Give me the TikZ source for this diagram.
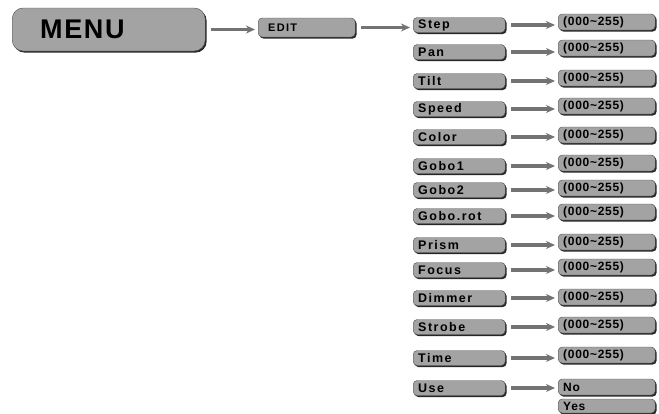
\documentclass[tikz,border=0pt]{standalone}
\usepackage{fontspec}
\setmainfont{Liberation Sans}
\newfontfamily\keyfont{Liberation Sans}[LetterSpace=12]
\newfontfamily\valfont{Liberation Sans}[LetterSpace=6]
\usetikzlibrary{arrows.meta,shadows}

\begin{document}
\begin{tikzpicture}[x=1pt,y=-1pt,>={Stealth[length=9pt,width=8pt]},
 box/.style={draw=black!70,line width=.4pt,fill=black!36,rounded corners=4pt,
  drop shadow={shadow xshift=1.4pt,shadow yshift=-1.6pt,fill=black!85,opacity=1},
  anchor=west,align=left,inner ysep=0pt},
 key/.style={box,inner xsep=5pt,text width=82pt,minimum height=15pt,
  font=\keyfont\bfseries\fontsize{12.5}{13}\selectfont},
 val/.style={box,inner xsep=5pt,text width=87pt,minimum height=16pt,
  font=\valfont\bfseries\fontsize{12}{13}\selectfont},
 link/.style={->,line width=3.2pt,draw=black!55,fill=black!55,shorten <=6pt,shorten >=3pt}]
\useasboundingbox (0,0) rectangle (659,413);
% top row
\node[box,rounded corners=11pt,inner xsep=28pt,text width=137pt,minimum height=43pt,
 font=\valfont\bfseries\fontsize{27}{29}\selectfont] (menu) at (12,29.5) {MENU};
\node[box,inner xsep=10pt,text width=77pt,minimum height=19pt,
 font=\keyfont\bfseries\fontsize{11}{12}\selectfont] (edit) at (258,27.5) {EDIT};
\draw[link] (menu.east) -- (menu.east -| edit.west);
% parameters and their ranges
\foreach \lab/\ya/\yb [count=\i] in {Step/25/22,Pan/52/48,Tilt/81/78,Speed/109/106,
 Color/137/135,Gobo1/166/163,Gobo2/190/188,Gobo.rot/216/212,Prism/245/242,
 Focus/270/267,Dimmer/298/297,Strobe/327/325,Time/358/355}{
 \node[key] (p\i) at (413,\ya) {\lab};
 \node[val] (v\i) at (558,\yb) {(000\textasciitilde255)};
 \draw[link] (p\i.east) -- (p\i.east -| v\i.west);
}
\draw[link] (edit.east) -- (edit.east -| p1.west);
\node[key] (use) at (413,388) {Use};
\node[val] (no) at (558,387) {No};
\node[val,minimum height=14pt] (yes) at (558,406) {Yes};
\draw[link] (use.east) -- (use.east -| no.west);
\end{tikzpicture}
\end{document}
